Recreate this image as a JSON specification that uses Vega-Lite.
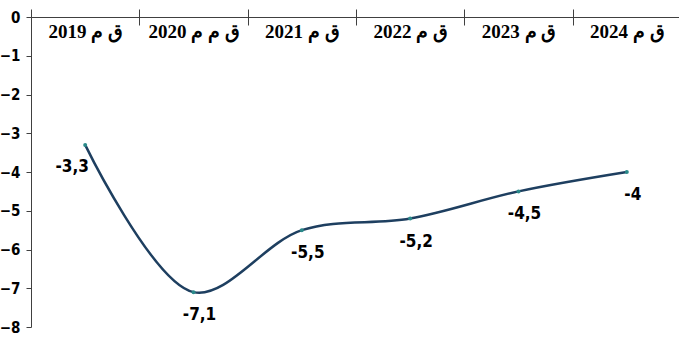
{
  "$schema": "https://vega.github.io/schema/vega-lite/v6.json",
  "autosize": "none",
  "padding": {"left": 31, "top": 17, "right": 0, "bottom": 13},
  "width": 650,
  "height": 310,
  "background": "white",
  "config": {"view": {"stroke": null}},
  "data": {"values": [
    {"year": "ق م 2019", "value": -3.3, "label": "-3,3"},
    {"year": "ق م م 2020", "value": -7.1, "label": "-7,1"},
    {"year": "ق م 2021", "value": -5.5, "label": "-5,5"},
    {"year": "ق م 2022", "value": -5.2, "label": "-5,2"},
    {"year": "ق م 2023", "value": -4.5, "label": "-4,5"},
    {"year": "ق م 2024", "value": -4.0, "label": "-4"}
  ]},
  "encoding": {
    "x": {"field": "year", "type": "nominal", "sort": null,
      "scale": {"type": "band", "paddingInner": 0, "paddingOuter": 0},
      "axis": {"orient": "top", "title": null, "tickBand": "extent", "tickSize": 8,
        "labelAngle": 0, "labelBaseline": "top", "labelPadding": -13,
        "labelFont": "Liberation Serif", "labelFontWeight": "bold", "labelFontSize": 19, "labelColor": "black",
        "domainColor": "#404040", "tickColor": "#404040", "domainWidth": 1, "tickWidth": 1,
        "grid": true, "gridColor": "#404040", "gridDash": [0, 302, 8, 1000], "gridWidth": 1}},
    "y": {"field": "value", "type": "quantitative",
      "scale": {"domain": [-8, 0], "nice": false, "zero": false},
      "axis": {"title": null, "values": [0, -1, -2, -3, -4, -5, -6, -7, -8], "tickSize": 5, "labelPadding": 6,
        "labelFont": "DejaVu Sans Condensed", "labelFontWeight": "bold", "labelFontSize": 15, "labelColor": "black",
        "domainColor": "#404040", "tickColor": "#404040", "grid": false, "labelFlush": false, "labelOverlap": false}}
  },
  "layer": [
    {"mark": {"type": "line", "interpolate": "catmull-rom", "color": "#1e3f60", "strokeWidth": 2.5}},
    {"mark": {"type": "point", "filled": true, "size": 16, "color": "#2a8a8a", "opacity": 1}},
    {"transform": [{"filter": "datum.value != -3.3"}],
     "mark": {"type": "text", "dx": 6, "dy": 23, "font": "DejaVu Sans Condensed", "fontWeight": "bold", "fontSize": 17, "color": "black"},
     "encoding": {"text": {"field": "label"}}},
    {"transform": [{"filter": "datum.value == -3.3"}],
     "mark": {"type": "text", "dx": -13, "dy": 22, "font": "DejaVu Sans Condensed", "fontWeight": "bold", "fontSize": 17, "color": "black"},
     "encoding": {"text": {"field": "label"}}}
  ]
}
